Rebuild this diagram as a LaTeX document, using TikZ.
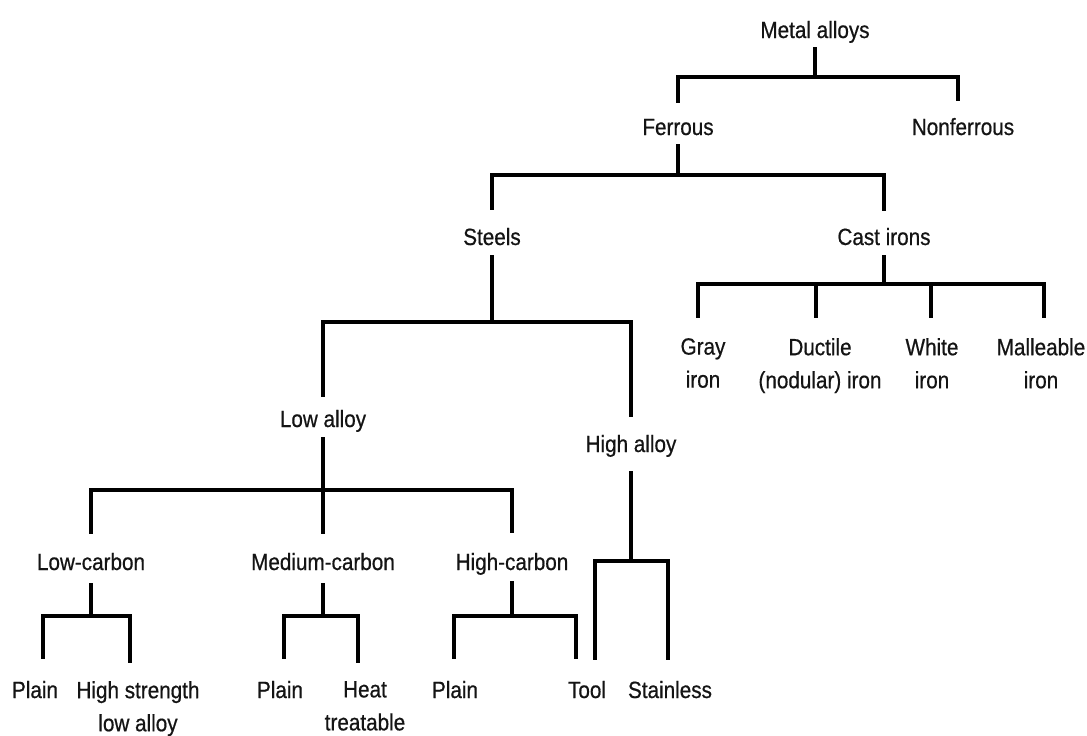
\documentclass[tikz,border=0pt]{standalone}
\usepackage{fontspec}
\setmainfont{Liberation Sans}[FakeStretch=0.88,FakeBold=0.6]
\usetikzlibrary{calc}
\tikzset{
  lbl/.style={font=\fontsize{23.5}{33}\selectfont, text=black!92, inner xsep=0pt, inner ysep=4pt, text height=17pt, text depth=5pt, anchor=base},
  lbltwo/.style={font=\fontsize{23.5}{33}\selectfont, text=black!92, inner xsep=0pt, inner ysep=4pt, align=center, anchor=north},
  conn/.style={draw=black, line width=3.2pt, shorten <=1pt, shorten >=14pt}
}
\newcommand\tlink[5][]{\draw[conn,#1] (#2.south) -- (#2.south |- 0,#3) -| ($(#4.north)+(#5,0)$);}
\begin{document}
\begin{tikzpicture}[x=1pt,y=-1pt]
\useasboundingbox[fill=white] (0,0) rectangle (1087,736);
% level nodes
\node[lbl] (ma) at (815,38) {Metal alloys};
\node[lbl] (fe) at (678,135) {Ferrous};
\node[lbl] (nf) at (963,135) {Nonferrous};
\node[lbl] (st) at (492,245) {Steels};
\node[lbl] (ci) at (884,245) {Cast irons};
\node[lbl] (la) at (323,427) {Low alloy};
\node[lbl] (ha) at (631,452) {High alloy};
\node[lbltwo] (gi) at (703,334) {Gray\\iron};
\node[lbltwo] (di) at (820,334) {Ductile\\(nodular) iron};
\node[lbltwo] (wi) at (932,334) {White\\iron};
\node[lbltwo] (mi) at (1041,334) {Malleable\\iron};
\node[lbl] (lc) at (91,570) {Low-carbon};
\node[lbl] (mc) at (323,570) {Medium-carbon};
\node[lbl] (hc) at (512,570) {High-carbon};
\node[lbl] (p1) at (35,698) {Plain};
\node[lbltwo] (hs) at (138,677) {High strength\\low alloy};
\node[lbl] (p2) at (280,698) {Plain};
\node[lbltwo] (ht) at (365,677) {Heat\\treatable};
\node[lbl] (p3) at (455,698) {Plain};
\node[lbl] (tl) at (587,698) {Tool};
\node[lbl] (ss) at (670,698) {Stainless};
% connectors
\tlink[shorten <=0pt, shorten >=11pt]{ma}{77}{fe}{0}
\tlink[shorten <=0pt, shorten >=13pt]{ma}{77}{nf}{-5}
\tlink[shorten <=0pt]{fe}{175}{st}{0}
\tlink[shorten <=0pt, shorten >=13pt]{fe}{175}{ci}{0}
\tlink[shorten >=9pt]{st}{322}{la}{0}
\tlink{st}{322}{ha}{0}
\tlink[shorten >=16pt]{ci}{284}{gi}{-5}
\tlink[shorten >=16pt]{ci}{284}{di}{-4}
\tlink[shorten >=16pt]{ci}{284}{wi}{-1}
\tlink[shorten >=16pt]{ci}{284}{mi}{3}
\tlink[shorten >=15pt]{la}{490}{lc}{0}
\tlink[shorten >=15pt]{la}{490}{mc}{0}
\tlink[shorten >=16pt]{la}{490}{hc}{0}
\tlink[shorten <=4pt, shorten >=18pt]{lc}{616}{p1}{8}
\tlink[shorten <=4pt, shorten >=14pt]{lc}{616}{hs}{-8}
\tlink[shorten <=4pt, shorten >=18pt]{mc}{616}{p2}{4}
\tlink[shorten <=4pt, shorten >=14pt]{mc}{616}{ht}{-7}
\tlink[shorten <=2pt, shorten >=18pt]{hc}{616}{p3}{-1}
\tlink[shorten <=2pt, shorten >=18pt]{hc}{616}{tl}{-11}
\tlink[shorten <=10pt, shorten >=17pt]{ha}{561}{tl}{8}
\tlink[shorten <=10pt, shorten >=17pt]{ha}{561}{ss}{-2}
\end{tikzpicture}
\end{document}
